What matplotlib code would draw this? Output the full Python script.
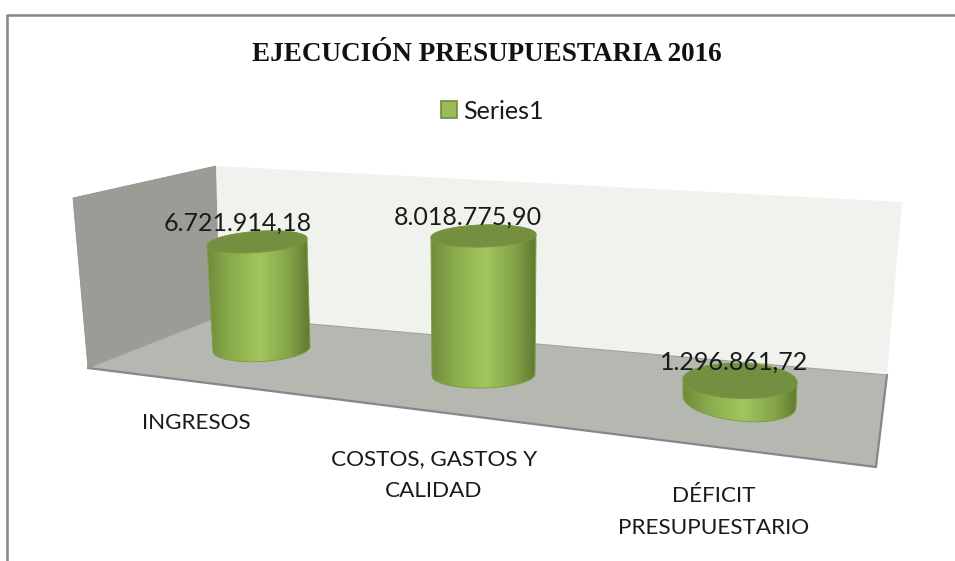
import numpy as np
import matplotlib
matplotlib.use("Agg")
import matplotlib.pyplot as plt
from matplotlib.colors import LinearSegmentedColormap
from matplotlib.patches import Patch, PathPatch, Polygon
from matplotlib.path import Path

# Data
title = "EJECUCIÓN PRESUPUESTARIA 2016"
series_name = "Series1"
categories = ["INGRESOS", "COSTOS, GASTOS Y\nCALIDAD", "DÉFICIT\nPRESUPUESTARIO"]
values = [6721914.18, 8018775.90, 1296861.72]

# Perspective of the Excel 3D chart, one entry per category (pixels)
base_x = [261.5, 483.5, 739.5]
base_y = [349, 375, 402]
top_x = [257, 483.5, 740]
px_per_value = [107 / 6721914.18, 139 / 8018775.90, 21 / 1296861.72]
half_w_top = [50, 52.5, 57]
half_h_top = [10.5, 11, 17.5]
tilt_top = [-3.5, -1.5, 1.5]
half_w_base = [48.5, 51.5, 56.5]
half_h_base = [12.5, 13, 19]
tilt_base = [-2.5, -1, 5.5]
value_label_dx = [-19, -16, -6]
cat_label_xy = [(196, 423), (434, 475), (714, 512)]

plt.rcParams["font.family"] = ["Lato", "DejaVu Sans"]

side_cmap = LinearSegmentedColormap.from_list(
    "cyl", [(0, "#6f8c3a"), (0.22, "#8aab4c"), (0.52, "#a2c65e"),
            (0.8, "#84a448"), (1, "#5e7a30")])


def format_es(v):
    return f"{v:,.2f}".replace(",", "#").replace(".", ",").replace("#", ".")


def ellipse(cx, cy, a, b, tilt, t):
    return cx + a * np.cos(t), cy + b * np.sin(t) + tilt * np.cos(t)


fig = plt.figure(figsize=(9.55, 5.61), dpi=100)
ax = fig.add_axes([0, 0, 1, 1])
ax.set_axis_off()

# Walls and floor
ax.add_patch(Polygon([(73, 198), (216, 166), (220, 316), (88, 368)], fc="#9a9c95", ec="#8f918b", lw=0.6, zorder=1))
ax.add_patch(Polygon([(216, 166), (902, 202), (887, 375), (220, 316)], fc="#f0f3ed", ec="none", zorder=1))
ax.add_patch(Polygon([(88, 368), (220, 316), (887, 375), (876, 467)], fc="#b5b8b1", ec="none", zorder=2))
ax.plot([88, 876, 887], [368, 467, 375], color="#85878a", lw=1.6, zorder=3)
ax.plot([88, 220, 887], [368, 316, 375], color="#a0a29c", lw=0.8, zorder=3)

# Cylinders, back to front does not matter here since they do not overlap
for i, v in enumerate(values):
    top_y = base_y[i] - v * px_per_value[i]
    t_top = np.linspace(np.pi, 2 * np.pi, 60)
    t_base = np.linspace(0, np.pi, 60)
    xt, yt = ellipse(top_x[i], top_y, half_w_top[i], half_h_top[i], tilt_top[i], t_top)
    xb, yb = ellipse(base_x[i], base_y[i], half_w_base[i], half_h_base[i], tilt_base[i], t_base)
    side = np.column_stack([np.r_[xt, xb], np.r_[yt, yb]])
    x0 = side[:, 0].min()
    x1 = side[:, 0].max()
    im = ax.imshow(np.linspace(0, 1, 200).reshape(1, -1), cmap=side_cmap, aspect="auto",
                   extent=[x0, x1, side[:, 1].max(), side[:, 1].min()], zorder=4)
    clip = PathPatch(Path(np.vstack([side, side[0]]), closed=True), fc="none", ec="#7f9f44", lw=0.7, zorder=4)
    ax.add_patch(clip)
    im.set_clip_path(clip)

    t = np.linspace(0, 2 * np.pi, 120)
    xe, ye = ellipse(top_x[i], top_y, half_w_top[i], half_h_top[i], tilt_top[i], t)
    ax.add_patch(Polygon(np.column_stack([xe, ye]), fc="#758f40", ec="#7b9645", lw=0.7, zorder=5))

    ax.text(top_x[i] + value_label_dx[i], top_y - 19, format_es(v), ha="center", va="center",
            fontsize=18, color="#1a1a1a", zorder=6)
    ax.text(cat_label_xy[i][0], cat_label_xy[i][1], categories[i], ha="center", va="center",
            fontsize=16.2, color="#1a1a1a", linespacing=1.8, zorder=6)

ax.set_xlim(0, 955)
ax.set_ylim(561, 0)

# Chart frame
ax.plot([6.5, 6.5, 955], [561, 15, 15], color="#868686", lw=1.8, zorder=7)

ax.text(487, 54, title, ha="center", va="center", fontsize=19.5, fontweight="bold",
        family="Liberation Serif", color="#111111")

handle = Patch(fc="#9bbb59", ec="#6f8c3a", lw=1.2)
ax.legend([handle], [series_name], loc="center", bbox_to_anchor=(492, 111), bbox_transform=ax.transData,
          frameon=False, fontsize=18, handlelength=0.65, handleheight=0.65, handletextpad=0.25,
          labelcolor="#1a1a1a")

fig.savefig("out.png", dpi=100)
